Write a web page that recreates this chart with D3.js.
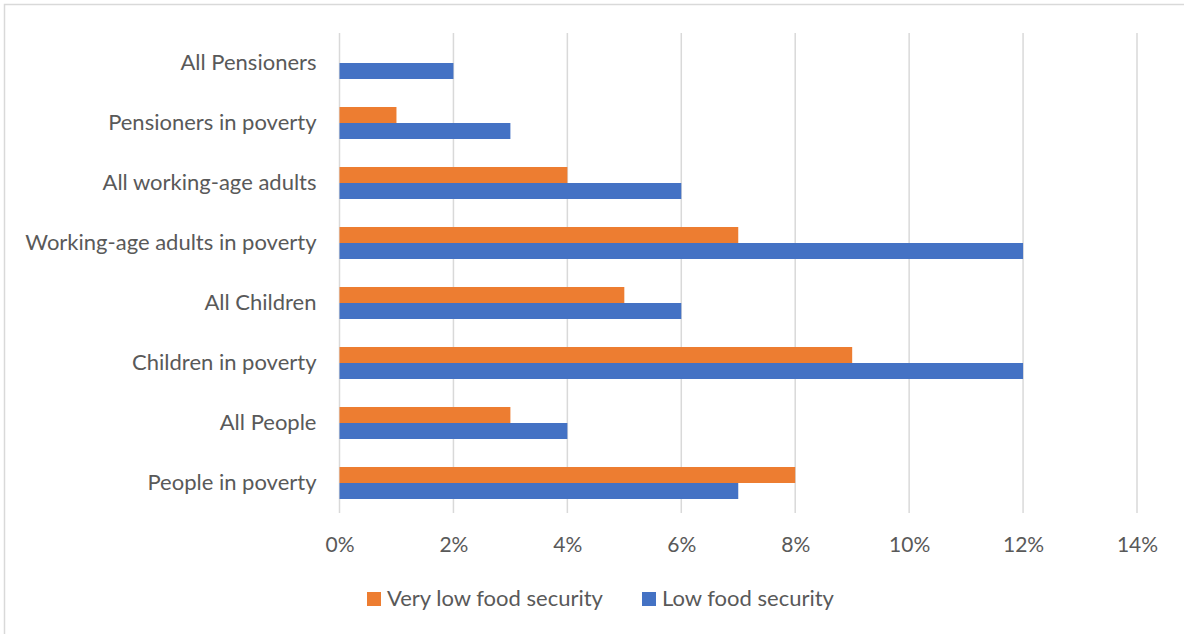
<!DOCTYPE html>
<html>
<head>
<meta charset="utf-8">
<script src="https://cdn.jsdelivr.net/npm/d3@7"></script>
<style>
  html, body { margin: 0; padding: 0; background: #fff; }
  svg { display: block; }
  text { font-family: Lato, "Open Sans", sans-serif; fill: #595959; }
</style>
</head>
<body>
<div id="chart"></div>
<script>
const categories = [
  "All Pensioners",
  "Pensioners in poverty",
  "All working-age adults",
  "Working-age adults in poverty",
  "All Children",
  "Children in poverty",
  "All People",
  "People in poverty"
];
const veryLowFoodSecurity = [0, 1, 4, 7, 5, 9, 3, 8];
const lowFoodSecurity = [2, 3, 6, 12, 6, 12, 4, 7];
const seriesNames = ["Very low food security", "Low food security"];
const seriesColors = ["#ED7D31", "#4472C4"];
const xTicks = [0, 2, 4, 6, 8, 10, 12, 14];

const W = 1184, H = 634;
const margin = { left: 339.5, right: W - 1137, top: 33, bottom: H - 513 };

const svg = d3.select("#chart").append("svg")
  .attr("width", W).attr("height", H);

// outer border (top & left visible)
svg.append("rect")
  .attr("x", 4.5).attr("y", 4.5)
  .attr("width", W + 10).attr("height", H + 10)
  .attr("fill", "none").attr("stroke", "#D9D9D9").attr("stroke-width", 1.5);

const x = d3.scaleLinear().domain([0, 14]).range([margin.left, W - margin.right]);
const y = d3.scaleBand().domain(categories)
  .range([margin.top, H - margin.bottom])
  .paddingInner(28 / 60).paddingOuter(14 / 60);
const ySub = d3.scaleBand().domain(seriesNames).range([0, y.bandwidth()]);

// gridlines
svg.append("g").selectAll("line").data(xTicks).join("line")
  .attr("x1", d => x(d)).attr("x2", d => x(d))
  .attr("y1", margin.top).attr("y2", H - margin.bottom)
  .attr("stroke", "#D9D9D9").attr("stroke-width", 1.5);

// bars
const rows = categories.map((c, i) => ({ c, vals: [veryLowFoodSecurity[i], lowFoodSecurity[i]] }));
const g = svg.append("g");
rows.forEach(r => {
  r.vals.forEach((v, j) => {
    if (v <= 0) return;
    g.append("rect")
      .attr("x", x(0))
      .attr("y", y(r.c) + ySub(seriesNames[j]))
      .attr("width", x(v) - x(0))
      .attr("height", ySub.bandwidth())
      .attr("fill", seriesColors[j]);
  });
});

// x axis labels
const xAxis = d3.axisBottom(x).tickValues(xTicks).tickSize(0).tickPadding(0)
  .tickFormat(d => d + "%");
const xa = svg.append("g").attr("transform", `translate(0, ${H - margin.bottom + 39})`).call(xAxis);
xa.select(".domain").remove();
xa.selectAll("text").attr("dy", null).attr("dominant-baseline", "auto")
  .style("font-size", "21px").style("fill", "#595959")
  .style("font-family", "Lato, 'Open Sans', sans-serif");

// y labels
const yAxis = d3.axisLeft(y).tickSize(0).tickPadding(23);
const ya = svg.append("g").attr("transform", `translate(${margin.left}, 0)`).call(yAxis);
ya.select(".domain").remove();
ya.selectAll("text")
  .style("font-size", "22px").style("fill", "#595959")
  .style("font-family", "Lato, 'Open Sans', sans-serif");

// legend
const legendItems = [
  { name: seriesNames[0], color: seriesColors[0], x: 367 },
  { name: seriesNames[1], color: seriesColors[1], x: 642 }
];
const lg = svg.append("g");
legendItems.forEach(it => {
  lg.append("rect").attr("x", it.x).attr("y", 592).attr("width", 14).attr("height", 14).attr("fill", it.color);
  lg.append("text").attr("x", it.x + 20).attr("y", 606)
    .style("font-size", "22px").text(it.name);
});
</script>
</body>
</html>
